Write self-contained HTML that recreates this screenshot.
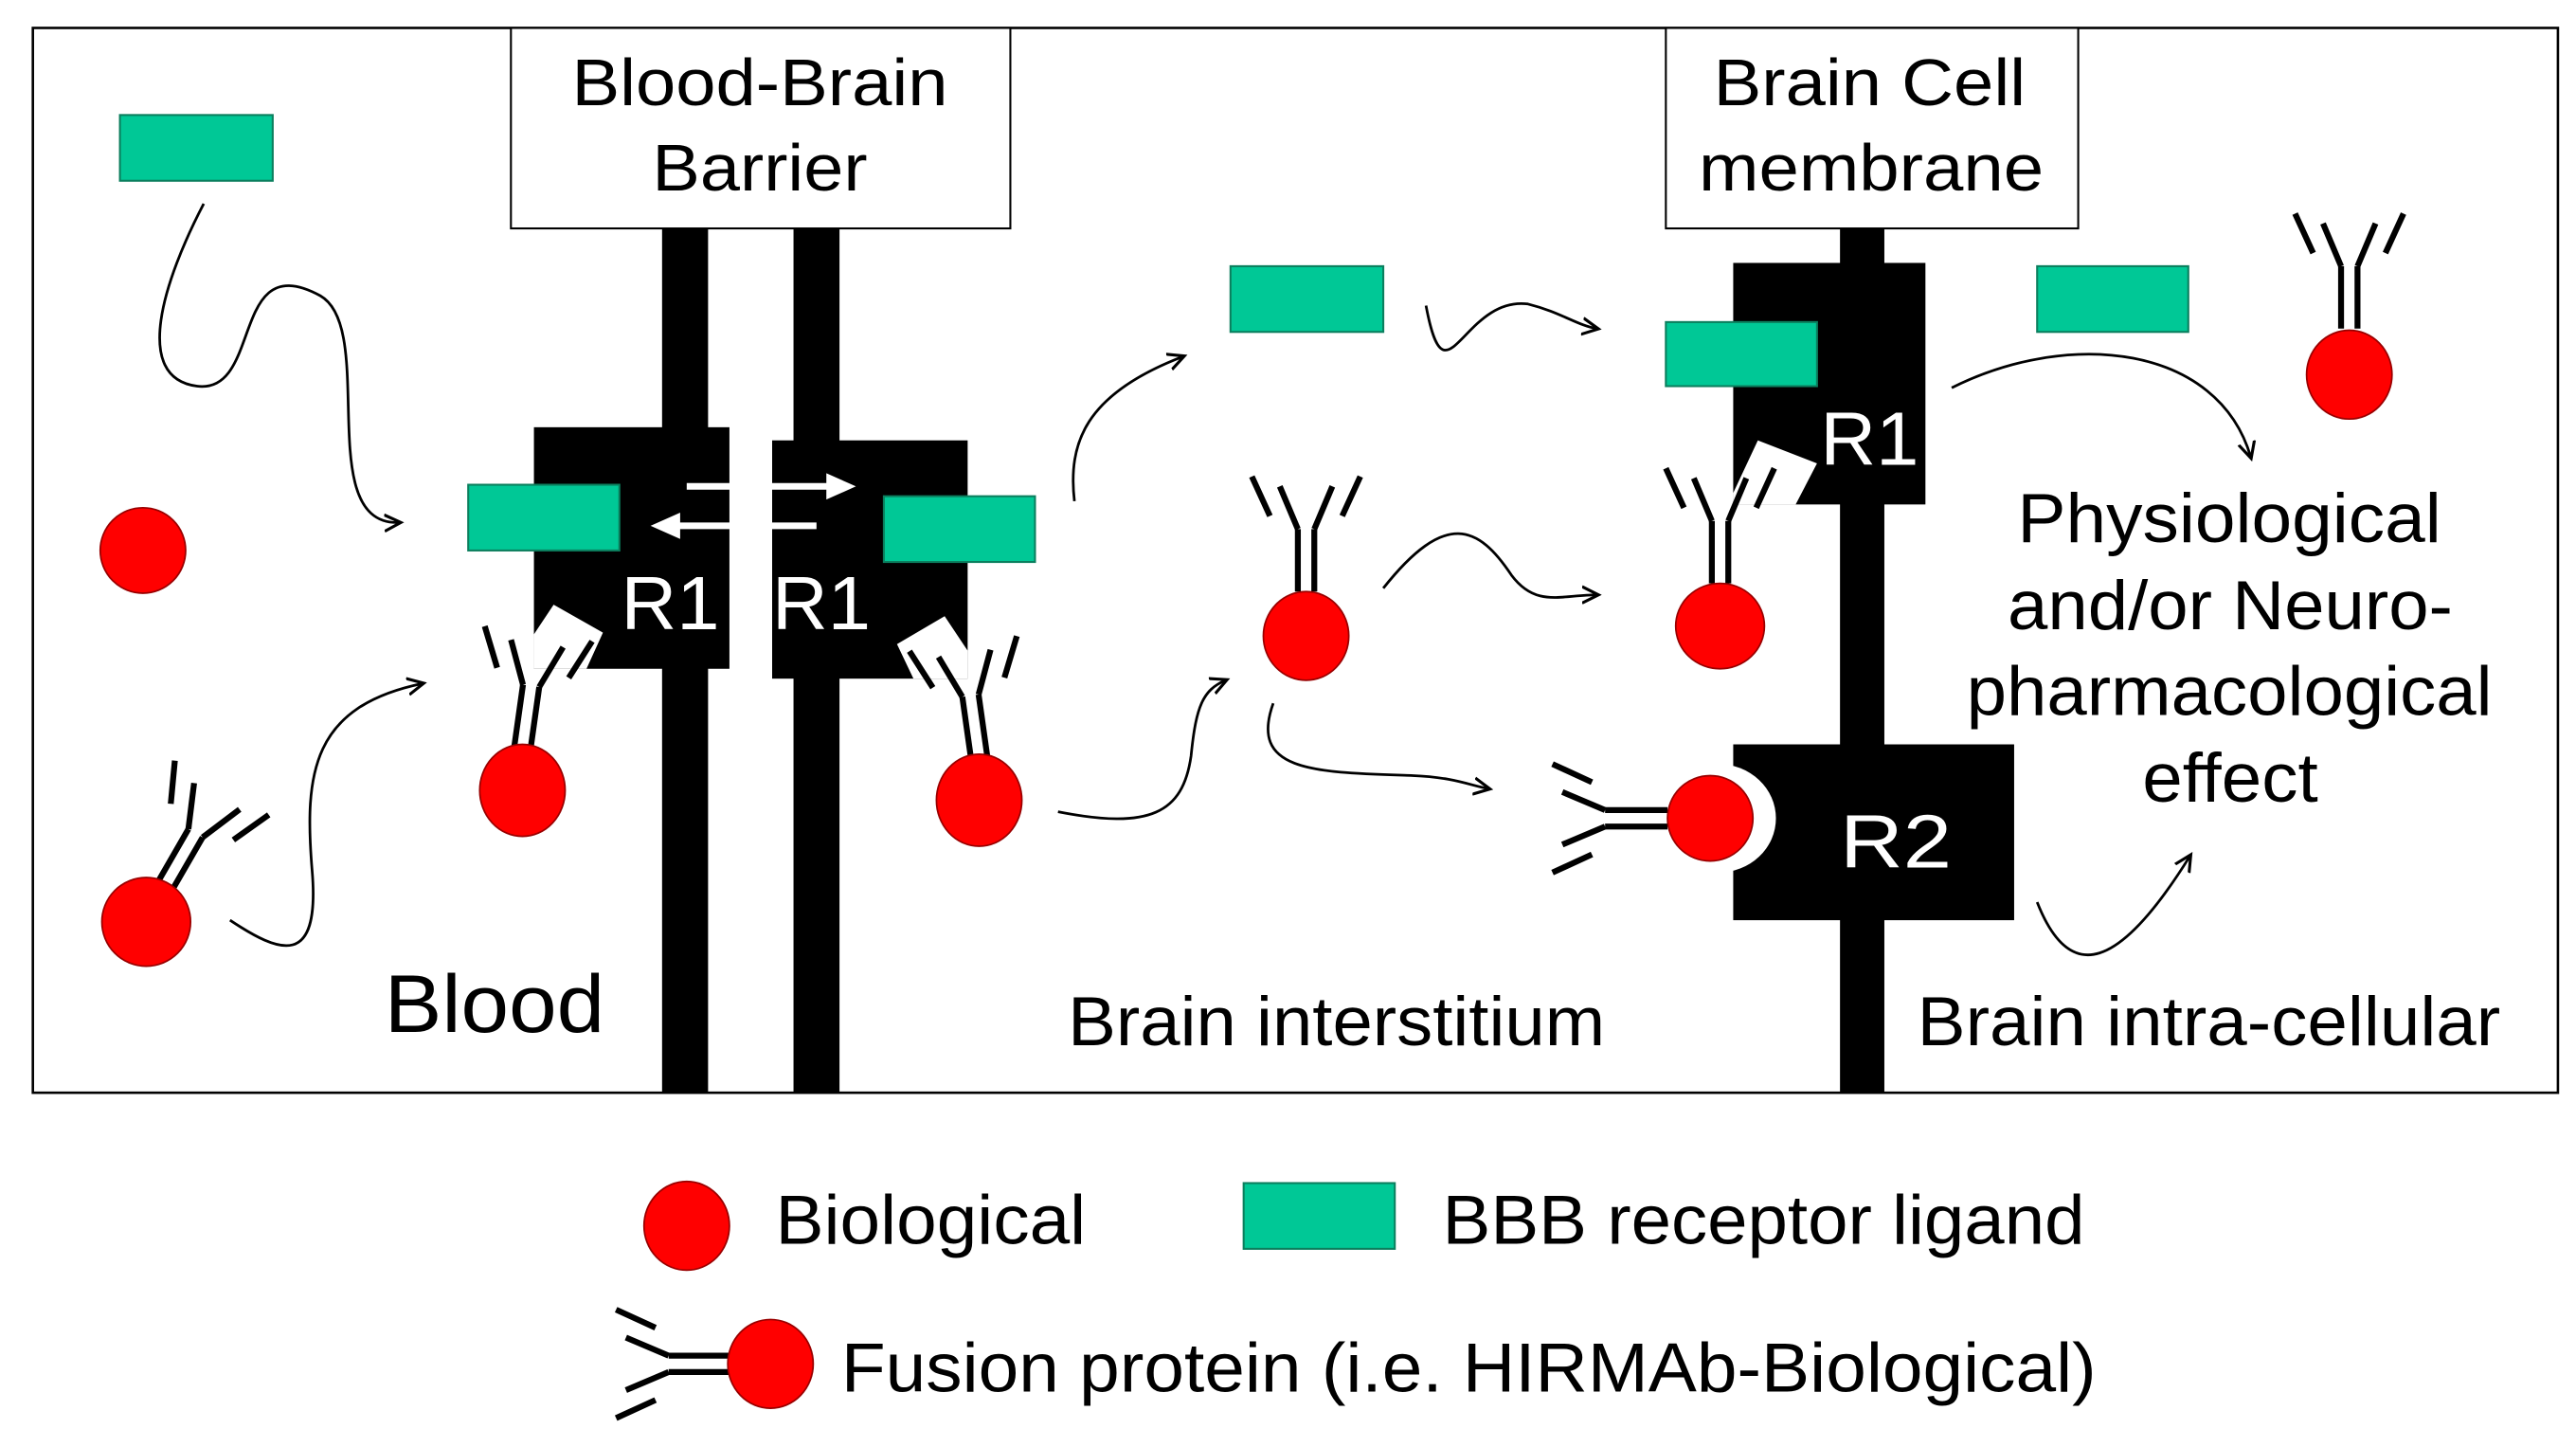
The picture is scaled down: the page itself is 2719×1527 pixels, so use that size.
<!DOCTYPE html>
<html><head><meta charset="utf-8"><style>
html,body{margin:0;padding:0;background:#fff;}
svg{display:block;}
text{font-family:"Liberation Sans",Arial,sans-serif;}
</style></head><body>
<svg width="2719" height="1527" viewBox="0 0 1568 880.6" preserveAspectRatio="none" xmlns="http://www.w3.org/2000/svg">
<defs>
<marker id="ah" markerWidth="12" markerHeight="12" refX="9" refY="6" orient="auto" markerUnits="userSpaceOnUse">
<path d="M0,1 L10,6 L0,11" fill="none" stroke="#000" stroke-width="1.8"/></marker>
<g id="ab" stroke="#000" stroke-width="3.6" fill="none">
<line x1="-5" y1="0" x2="-5" y2="-38"/><line x1="5" y1="0" x2="5" y2="-38"/>
<line x1="-5" y1="-38" x2="-16" y2="-64"/><line x1="5" y1="-38" x2="16" y2="-64"/>
<line x1="-22" y1="-46" x2="-33" y2="-70"/><line x1="22" y1="-46" x2="33" y2="-70"/>
</g>
</defs>
<rect x="20" y="17" width="1537" height="648" fill="none" stroke="#000" stroke-width="1.5"/>
<rect x="403" y="139" width="28" height="526" fill="#000"/>
<rect x="483" y="139" width="28" height="526" fill="#000"/>
<rect x="1120" y="139" width="27" height="526" fill="#000"/>
<rect x="311" y="17" width="304" height="122" fill="#fff" stroke="#000" stroke-width="1.2"/>
<text x="348" y="64" font-size="40" textLength="229" lengthAdjust="spacingAndGlyphs">Blood-Brain</text>
<text x="397" y="116" font-size="40" textLength="131" lengthAdjust="spacingAndGlyphs">Barrier</text>
<rect x="1014" y="17" width="251" height="122" fill="#fff" stroke="#000" stroke-width="1.2"/>
<text x="1043" y="64" font-size="40" textLength="190" lengthAdjust="spacingAndGlyphs">Brain Cell</text>
<text x="1034" y="116" font-size="40" textLength="210" lengthAdjust="spacingAndGlyphs">membrane</text>
<rect x="325" y="260" width="119" height="147" fill="#000"/>
<polygon points="325,386 337,368 367,385 357,407 325,407" fill="#fff"/>
<rect x="470" y="268" width="119" height="145" fill="#000"/>
<polygon points="546,392 575,375 589,396 589,413 556,413" fill="#fff"/>
<text x="378" y="383" font-size="46" fill="#fff" textLength="60" lengthAdjust="spacingAndGlyphs">R1</text>
<text x="470" y="383" font-size="46" fill="#fff" textLength="60" lengthAdjust="spacingAndGlyphs">R1</text>
<line x1="418" y1="296" x2="505" y2="296" stroke="#fff" stroke-width="4"/>
<polygon points="503,288 521,296 503,304" fill="#fff"/>
<line x1="412" y1="320" x2="497" y2="320" stroke="#fff" stroke-width="4"/>
<polygon points="414,312 396,320 414,328" fill="#fff"/>
<rect x="1055" y="160" width="117" height="147" fill="#000"/>
<polygon points="1055,300 1070,268 1106,282 1093,307 1055,307" fill="#fff"/>
<text x="1108" y="283" font-size="46" fill="#fff" textLength="60" lengthAdjust="spacingAndGlyphs">R1</text>
<rect x="1055" y="453" width="171" height="107" fill="#000"/>
<ellipse cx="1046" cy="498" rx="35" ry="33" fill="#fff"/>
<text x="1120" y="528" font-size="46" fill="#fff" textLength="68" lengthAdjust="spacingAndGlyphs">R2</text>
<g fill="#00c896" stroke="#0b7f5e" stroke-width="1.2">
<rect x="73" y="70" width="93" height="40"/>
<rect x="285" y="295" width="92" height="40"/>
<rect x="538" y="302" width="92" height="40"/>
<rect x="749" y="162" width="93" height="40"/>
<rect x="1014" y="196" width="92" height="39"/>
<rect x="1240" y="162" width="92" height="40"/>
<rect x="757" y="720" width="92" height="40"/>
</g>
<use href="#ab" transform="translate(318,455) rotate(8)"/>
<use href="#ab" transform="translate(596,461) rotate(-8)"/>
<use href="#ab" transform="translate(795,360)"/>
<use href="#ab" transform="translate(1047,355)"/>
<use href="#ab" transform="translate(1430,200)"/>
<use href="#ab" transform="translate(100,540) rotate(30)"/>
<use href="#ab" transform="translate(1015,498) rotate(-90)"/>
<use href="#ab" transform="translate(445,830) rotate(-90)"/>
<g fill="#f00" stroke="#900" stroke-width="1">
<ellipse cx="87" cy="335" rx="26" ry="26"/>
<ellipse cx="318" cy="481" rx="26" ry="28"/>
<ellipse cx="596" cy="487" rx="26" ry="28"/>
<ellipse cx="89" cy="561" rx="27" ry="27"/>
<ellipse cx="795" cy="387" rx="26" ry="27"/>
<ellipse cx="1047" cy="381" rx="27" ry="26"/>
<ellipse cx="1430" cy="228" rx="26" ry="27"/>
<ellipse cx="1041" cy="498" rx="26" ry="26"/>
<ellipse cx="418" cy="746" rx="26" ry="27"/>
<ellipse cx="469" cy="830" rx="26" ry="27"/>
</g>
<g fill="none" stroke="#000" stroke-width="1.6" marker-end="url(#ah)">
<path d="M124,124 C100,170 80,230 120,235 C160,240 140,150 195,180 C230,200 190,320 243,318"/>
<path d="M140,560 C170,580 195,590 190,530 C185,470 190,430 257,416"/>
<path d="M654,305 C650,270 660,240 720,217"/>
<path d="M868,186 C880,250 890,180 930,185 C950,190 960,198 972,200"/>
<path d="M644,494 C700,505 720,495 725,460 C728,430 732,420 746,414"/>
<path d="M842,358 C880,310 900,320 920,350 C935,370 950,362 972,362"/>
<path d="M775,428 C760,470 800,470 860,472 C885,473 895,478 906,480"/>
<path d="M1188,236 C1260,200 1350,210 1370,278"/>
<path d="M1240,549 C1260,600 1290,590 1333,521"/>
</g>
<text x="234" y="628" font-size="50" textLength="134" lengthAdjust="spacingAndGlyphs">Blood</text>
<text x="650" y="636" font-size="42" textLength="327" lengthAdjust="spacingAndGlyphs">Brain interstitium</text>
<text x="1167" y="636" font-size="42" textLength="355" lengthAdjust="spacingAndGlyphs">Brain intra-cellular</text>
<text x="1228" y="330" font-size="42" textLength="258" lengthAdjust="spacingAndGlyphs">Physiological</text>
<text x="1222" y="383" font-size="42" textLength="271" lengthAdjust="spacingAndGlyphs">and/or Neuro-</text>
<text x="1197" y="435" font-size="42" textLength="320" lengthAdjust="spacingAndGlyphs">pharmacological</text>
<text x="1304" y="488" font-size="42" textLength="107" lengthAdjust="spacingAndGlyphs">effect</text>
<text x="472" y="757" font-size="42" textLength="189" lengthAdjust="spacingAndGlyphs">Biological</text>
<text x="878" y="757" font-size="42" textLength="391" lengthAdjust="spacingAndGlyphs">BBB receptor ligand</text>
<text x="512" y="847" font-size="42" textLength="764" lengthAdjust="spacingAndGlyphs">Fusion protein (i.e. HIRMAb-Biological)</text>
</svg>
</body></html>
